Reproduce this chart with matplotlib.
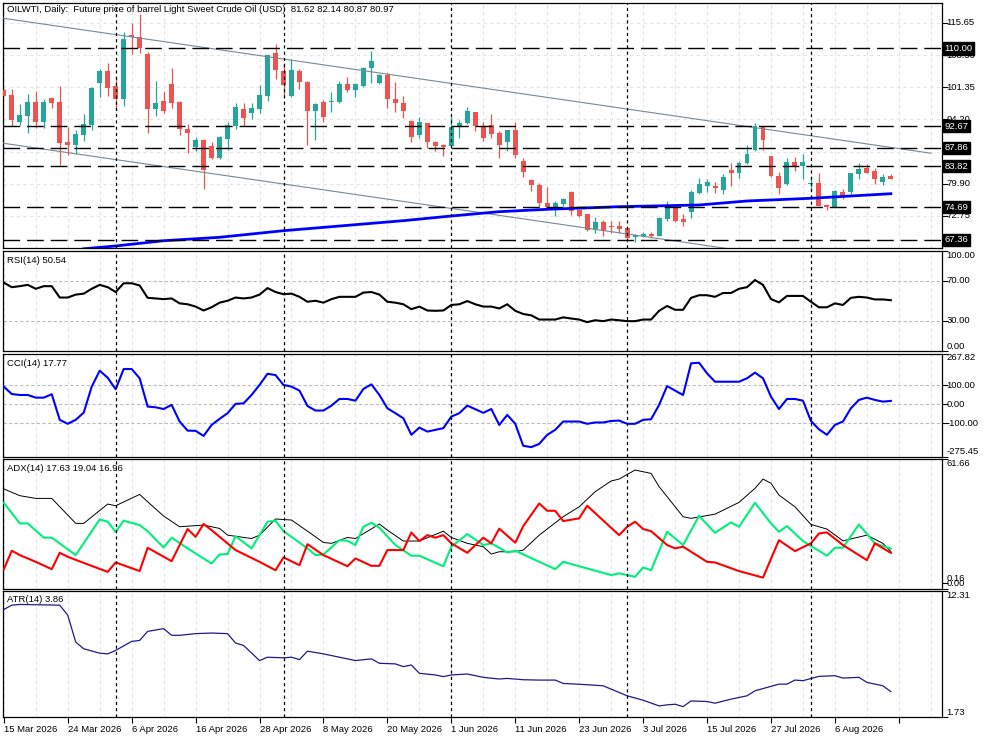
import matplotlib
matplotlib.use("Agg")
import matplotlib.pyplot as plt
from matplotlib import font_manager
from matplotlib.transforms import blended_transform_factory

names = {f.name for f in font_manager.fontManager.ttflist}
FONT = "Liberation Sans Narrow" if "Liberation Sans Narrow" in names else "Liberation Sans"
plt.rcParams["font.family"] = [FONT, "DejaVu Sans"]
FS = 6.8

# ---------------- data ----------------
date_labels = ["15 Mar 2026", "24 Mar 2026", "6 Apr 2026", "16 Apr 2026",
               "28 Apr 2026", "8 May 2026", "20 May 2026", "1 Jun 2026",
               "11 Jun 2026", "23 Jun 2026", "3 Jul 2026", "15 Jul 2026",
               "27 Jul 2026", "6 Aug 2026"]

opens = [100.73, 99.62, 93.69, 94.95, 98.06, 93.69, 98.95, 98.06, 89.16, 88.49,
         90.72, 92.94, 102.36, 105.03, 101.62, 98.73, 113.04, 112.45, 108.74, 96.50,
         98.28, 102.07, 98.06, 92.05, 88.12, 89.61, 88.35, 85.68, 89.83, 92.72,
         96.50, 95.54, 96.50, 99.47, 109.04, 104.96, 99.47, 104.96, 102.58, 96.13,
         97.99, 97.99, 98.13, 102.07, 100.73, 101.62, 105.70, 102.36, 104.07, 98.73,
         97.91, 93.83, 90.72, 93.31, 89.24, 88.49, 88.35, 92.42, 93.31, 95.76,
         92.72, 92.94, 91.24, 89.24, 91.83, 84.94, 80.71, 79.60, 75.67, 74.78,
         75.30, 78.11, 74.03, 73.14, 69.58, 71.44, 70.55, 70.47, 69.96, 67.95,
         68.25, 68.69, 68.32, 72.03, 74.63, 71.96, 73.66, 77.89, 79.45, 79.45,
         78.48, 82.93, 82.34, 84.42, 87.38, 92.57, 86.05, 81.60, 79.82, 84.64,
         83.82, 79.89, 80.11, 75.15, 74.78, 77.96, 78.11, 82.04, 83.45, 82.71,
         80.34, 81.62]
highs = [101.00, 100.95, 97.62, 99.84, 100.58, 98.73, 99.25, 101.62, 92.57, 91.83,
         95.39, 101.40, 105.40, 106.81, 103.33, 113.71, 115.56, 117.64, 109.26, 102.73,
         100.58, 105.55, 98.20, 93.09, 90.35, 89.80, 89.24, 90.50, 93.54, 97.76,
         97.91, 97.76, 101.84, 108.60, 110.96, 106.66, 107.55, 105.40, 102.73, 97.76,
         98.51, 100.36, 102.73, 103.55, 102.21, 105.77, 109.41, 104.29, 104.59, 102.58,
         99.40, 94.00, 94.65, 93.46, 89.40, 88.72, 94.80, 94.06, 97.02, 95.91,
         93.69, 95.39, 91.68, 91.90, 93.69, 85.53, 80.93, 80.11, 79.23, 76.04,
         76.78, 78.20, 74.18, 73.20, 72.40, 71.81, 71.66, 71.66, 70.10, 68.62,
         69.07, 69.07, 72.40, 76.04, 74.93, 73.07, 78.48, 81.08, 80.93, 80.19,
         82.04, 84.42, 84.94, 88.49, 93.31, 92.70, 86.10, 82.41, 85.53, 85.90,
         86.49, 81.45, 82.34, 75.37, 78.48, 78.71, 82.34, 84.56, 84.27, 83.45,
         82.04, 82.14]
lows = [99.30, 92.72, 92.94, 91.24, 92.20, 92.35, 96.65, 84.05, 86.27, 86.49,
        89.46, 91.83, 99.10, 99.47, 96.28, 97.17, 108.74, 109.04, 91.09, 95.02,
        95.54, 96.80, 90.79, 86.79, 87.23, 78.71, 85.38, 85.31, 87.38, 91.98,
        92.72, 94.28, 95.54, 98.36, 103.18, 99.25, 99.25, 100.88, 88.49, 89.61,
        93.69, 95.91, 97.91, 100.36, 99.25, 101.32, 102.36, 101.99, 96.80, 95.76,
        94.58, 89.24, 89.98, 87.75, 87.16, 86.12, 88.20, 89.98, 93.17, 91.68,
        89.46, 90.13, 85.68, 87.23, 85.68, 81.45, 78.34, 74.78, 74.63, 72.77,
        75.00, 72.92, 72.40, 69.44, 68.84, 68.32, 68.99, 68.84, 67.51, 66.84,
        67.95, 67.73, 68.25, 71.66, 71.29, 70.55, 72.33, 77.52, 78.11, 77.89,
        77.59, 79.37, 81.23, 84.27, 87.23, 87.38, 81.45, 77.59, 79.60, 82.71,
        80.93, 78.34, 74.92, 73.96, 74.63, 76.41, 77.59, 80.93, 82.30, 79.82,
        79.60, 80.87]
closes = [99.47, 94.06, 95.17, 98.06, 93.69, 98.06, 97.91, 89.01, 88.49, 90.87,
          93.17, 101.25, 105.03, 101.25, 98.73, 112.08, 112.45, 110.00, 96.43, 97.76,
          96.13, 97.91, 91.98, 91.24, 89.61, 82.93, 85.68, 90.35, 92.94, 97.02,
          94.58, 96.80, 99.62, 108.52, 105.18, 101.84, 105.18, 102.58, 96.13, 97.62,
          94.80, 98.28, 102.07, 100.73, 102.07, 105.55, 107.18, 104.07, 98.73, 97.91,
          96.13, 90.20, 93.54, 89.24, 88.35, 87.97, 92.57, 93.46, 96.06, 92.80,
          90.13, 90.94, 88.49, 91.83, 86.27, 82.56, 79.60, 75.67, 74.78, 75.67,
          76.48, 73.89, 72.70, 69.58, 71.44, 69.44, 70.18, 69.81, 67.88, 68.47,
          68.69, 68.25, 72.18, 74.63, 71.66, 71.44, 78.11, 79.82, 80.34, 78.85,
          81.30, 82.34, 84.42, 86.49, 92.72, 89.61, 81.60, 79.00, 84.64, 83.67,
          84.64, 80.04, 75.00, 74.63, 78.26, 77.00, 82.19, 83.16, 82.34, 80.93,
          81.45, 80.97]

ma_bars = [10, 14, 20, 27, 35, 41, 50, 56, 62, 68, 77, 87, 93, 101, 111]
ma_vals = [65.40, 66.03, 67.20, 67.96, 69.43, 70.32, 71.66, 72.70, 73.66, 74.19,
           74.77, 75.15, 76.04, 76.64, 77.66]

channel_bars = [0, 116]
channel_upper = [116.68, 86.67]
channel_lower = [88.87, 58.87]

level_prices = [110.00, 92.67, 87.86, 83.82, 74.69, 67.36]
price_ticks = [115.65, 108.50, 101.35, 94.20, 87.05, 79.90, 72.75]
vline_bars = [14, 35, 56, 78, 101]

rsi = [68.0, 63.5, 64.5, 65.8, 61.9, 64.5, 64.5, 53.2, 53.2, 56.1,
       57.1, 61.9, 65.8, 63.5, 58.7, 67.4, 67.4, 65.2, 52.9, 52.3,
       51.6, 52.3, 47.4, 46.5, 44.2, 40.3, 43.5, 48.1, 50.0, 53.2,
       52.3, 53.2, 56.1, 62.6, 58.7, 56.5, 57.1, 53.9, 49.0, 50.0,
       48.1, 51.6, 53.9, 53.9, 53.9, 58.1, 58.7, 56.1, 49.0, 48.1,
       46.5, 41.6, 44.2, 40.3, 40.0, 40.3, 45.8, 46.5, 49.7, 46.5,
       44.2, 44.2, 42.3, 46.5, 40.0, 36.8, 35.5, 31.3, 31.3, 31.3,
       33.5, 32.3, 31.3, 28.7, 30.6, 29.7, 31.3, 30.6, 29.7, 29.7,
       31.3, 31.3, 40.0, 44.8, 41.0, 41.0, 52.9, 55.5, 55.5, 53.9,
       57.7, 57.7, 61.9, 63.5, 70.6, 65.8, 51.6, 48.4, 54.8, 54.8,
       54.8, 49.0, 43.5, 43.5, 47.4, 45.8, 52.9, 53.9, 53.2, 51.3,
       51.3, 50.54]

cci = [93, 54, 49, 49, 35, 35, 53, -82, -103, -82,
       -44, 93, 177, 140, 79, 186, 186, 137, -12, -16,
       -25, -3, -91, -139, -140, -167, -109, -77, -47, 2,
       5, 49, 102, 161, 154, 102, 93, 72, -9, -33,
       -33, -7, 28, 28, 19, 81, 105, 49, -21, -47,
       -74, -161, -123, -144, -135, -126, -65, -47, -7, -26,
       -45, -25, -109, -56, -103, -219, -226, -209, -161, -135,
       -91, -91, -91, -103, -96, -96, -88, -86, -103, -103,
       -82, -79, -3, 96, 72, 49, 216, 219, 163, 119,
       119, 119, 119, 137, 167, 137, 40, -25, 28, 28,
       19, -88, -132, -161, -109, -91, -21, 23, 35, 23,
       14, 17.77]

adx_bars = [0, 2, 4, 6, 9, 10, 13, 14, 17, 18, 20, 22, 25, 27, 28, 31, 32, 34, 36, 38,
            40, 41, 43, 44, 47, 48, 50, 52, 55, 56, 58, 60, 61, 62, 64, 65, 67, 70, 72, 74,
            76, 77, 78, 79, 81, 82, 85, 86, 89, 92, 94, 95, 96, 97, 99, 101, 103, 105, 108, 110,
            111]
adx_vals = [47.4, 44.2, 42.9, 42.9, 31.0, 31.0, 40.2, 39.4, 44.8, 41.3, 34.5, 29.4, 30.2, 28.6, 25.4, 23.8, 25.4, 33.1, 32.6, 27.3,
            21.9, 21.5, 24.3, 23.8, 30.7, 27.8, 22.6, 22.6, 27.3, 24.3, 21.5, 19.9, 16.4, 17.5, 17.5, 18.3, 25.4, 34.2, 38.9, 46.1,
            51.2, 52.1, 54.3, 56.4, 54.8, 48.5, 34.2, 33.4, 35.4, 41.0, 47.7, 52.1, 50.1, 44.5, 38.9, 30.5, 28.3, 22.7, 25.4, 21.5,
            17.63]
pdi_bars = [0, 2, 3, 5, 6, 9, 12, 13, 14, 15, 17, 18, 20, 21, 23, 26, 27, 28, 29, 31,
            33, 34, 35, 38, 39, 40, 42, 43, 44, 45, 46, 47, 49, 51, 52, 55, 56, 58, 60, 61,
            63, 64, 69, 70, 76, 77, 79, 80, 81, 83, 85, 87, 89, 91, 92, 94, 96, 97, 98, 100,
            103, 104, 105, 107, 109, 111]
pdi_vals = [40.8, 31.0, 31.0, 24.2, 24.2, 15.9, 32.9, 31.8, 27.0, 32.3, 30.2, 27.3, 19.5, 24.2, 19.1, 11.9, 16.2, 16.4, 24.9, 19.1,
            31.8, 32.3, 27.3, 19.1, 15.9, 16.2, 23.0, 22.7, 20.7, 29.4, 31.3, 28.9, 20.7, 15.6, 15.6, 10.6, 19.9, 25.9, 20.7, 21.5,
            17.2, 18.0, 9.2, 12.7, 6.4, 7.2, 5.6, 10.0, 8.7, 27.0, 20.7, 34.6, 26.5, 31.5, 29.4, 40.8, 31.0, 27.0, 29.7, 22.6,
            15.6, 19.4, 19.4, 30.5, 21.5, 19.04]
mdi_bars = [0, 1, 2, 4, 6, 7, 8, 10, 13, 14, 17, 18, 21, 23, 24, 25, 26, 29, 32, 34,
            35, 37, 38, 40, 43, 44, 46, 47, 48, 50, 51, 52, 53, 54, 55, 56, 58, 60, 61, 62,
            64, 65, 67, 68, 69, 70, 72, 73, 77, 78, 79, 80, 81, 83, 84, 85, 87, 88, 89, 92,
            95, 97, 99, 101, 102, 103, 105, 108, 109, 111]
mdi_vals = [9.1, 18.0, 15.9, 12.7, 9.2, 17.0, 15.1, 12.2, 7.9, 12.4, 8.3, 19.4, 13.0, 28.3, 24.6, 30.7, 27.8, 18.3, 12.7, 8.7,
            14.8, 11.1, 21.1, 15.9, 10.6, 14.3, 10.8, 10.8, 18.3, 18.3, 26.7, 22.6, 25.4, 24.2, 25.4, 21.5, 17.0, 24.2, 21.5, 28.5,
            21.8, 29.7, 40.5, 37.0, 37.0, 32.1, 33.4, 39.4, 25.4, 29.4, 31.8, 28.3, 27.3, 20.7, 19.1, 19.9, 15.1, 12.7, 12.4, 8.3,
            5.2, 23.0, 17.8, 21.5, 26.2, 26.7, 20.7, 13.5, 21.5, 16.96]

atr_bars = [0, 1, 2, 7, 8, 9, 10, 12, 13, 14, 16, 17, 18, 20, 21, 22, 24, 26, 28, 29,
            30, 32, 33, 35, 36, 37, 38, 40, 42, 44, 46, 47, 49, 50, 51, 52, 54, 55, 56, 58,
            60, 62, 63, 65, 67, 69, 70, 73, 75, 76, 78, 80, 82, 83, 84, 85, 86, 88, 89, 91,
            93, 94, 97, 98, 99, 100, 102, 104, 105, 107, 108, 110, 111]
atr_vals = [10.76, 11.12, 11.18, 11.12, 10.28, 8.02, 7.46, 7.09, 7.03, 7.32, 8.08, 8.16, 8.92, 9.15, 8.59, 8.59, 8.73, 8.78, 8.73, 7.94,
            7.74, 6.47, 6.75, 6.70, 6.75, 6.55, 7.26, 7.03, 6.75, 6.47, 6.61, 6.24, 6.19, 5.96, 6.10, 5.40, 5.26, 5.12, 5.26, 5.34,
            5.06, 4.92, 4.97, 4.86, 4.83, 4.83, 4.55, 4.44, 4.35, 4.07, 3.51, 3.14, 2.66, 2.75, 2.80, 2.60, 3.08, 3.03, 2.89, 3.23,
            3.51, 3.93, 4.49, 4.49, 4.83, 4.78, 5.14, 5.20, 5.00, 5.06, 4.64, 4.35, 3.86]

title = "OILWTI, Daily:  Future price of barrel Light Sweet Crude Oil (USD)  81.62 82.14 80.87 80.97"

# ---------------- styling ----------------
GREEN = "#26a69a"
RED = "#ef5350"
GRID = "#e4e4e4"
LEVEL = "#bdbdbd"

W, H = 983, 737
fig = plt.figure(figsize=(W / 100, H / 100), dpi=100)
fig.patch.set_facecolor("white")

left_px, right_px = 3, 942


def panel(top, bottom):
    return fig.add_axes([left_px / W, (H - bottom) / H,
                         (right_px - left_px) / W, (bottom - top) / H])


ax_main = panel(3, 248)
ax_rsi = panel(250.5, 351)
ax_cci = panel(353.5, 456.5)
ax_adx = panel(459, 588.5)
ax_atr = panel(591, 717)
axes = [ax_main, ax_rsi, ax_cci, ax_adx, ax_atr]

n = len(opens)
xs = list(range(n))
xlim = (-0.1, 117.4)
major_x = list(range(0, 113, 8))
minor_x = list(range(0, 118, 4))

for ax in axes:
    ax.set_xlim(*xlim)
    for s in ax.spines.values():
        s.set_linewidth(0.9)
        s.set_color("black")
    ax.set_xticks(minor_x, minor=True)
    ax.set_xticks(major_x)
    for gx in minor_x:
        ax.axvline(gx, color=GRID, lw=0.8, dashes=(3, 3), zorder=0)
    ax.tick_params(axis="x", which="both", length=0, labelbottom=False)
    ax.yaxis.tick_right()
    ax.tick_params(axis="y", length=4, width=0.8, direction="out",
                   labelright=False, labelleft=False, left=False)
    for vb in vline_bars:
        ax.axvline(vb, color="black", lw=0.9, dashes=(2.5, 2.5), zorder=6)


def right_labels(ax, ticks, top=None, bottom=None, extra=()):
    tr = blended_transform_factory(ax.transAxes, ax.transData)
    ax.set_yticks(list(ticks) + [v for v, _ in extra])
    for v in ticks:
        va = "center"
        if top is not None and v == top:
            va = "top"
        if bottom is not None and v == bottom:
            va = "bottom"
        ax.text(1.0 + 4.5 / 939, v, f"{v:.2f}", transform=tr, ha="left", va=va,
                fontsize=FS, clip_on=False)
    for v, va in extra:
        ax.text(1.0 + 4.5 / 939, v, f"{v:.2f}", transform=tr, ha="left", va=va,
                fontsize=FS, clip_on=False)


# ---------------- main price panel ----------------
ax_main.set_ylim(65.58, 120.09)
for p in price_ticks:
    ax_main.axhline(p, color=GRID, lw=0.8, dashes=(3, 3), zorder=0)

colors = [GREEN if c > o else RED for o, c in zip(opens, closes)]
ax_main.vlines(xs, lows, highs, colors=colors, lw=0.9, zorder=2)
bottoms = [min(o, c) for o, c in zip(opens, closes)]
heights = [max(abs(c - o), 0.12) for o, c in zip(opens, closes)]
ax_main.bar(xs, heights, bottom=bottoms, width=0.62, color=colors, linewidth=0, zorder=3)

ax_main.plot(channel_bars, channel_upper, color="#778899", lw=0.8, zorder=4)
ax_main.plot(channel_bars, channel_lower, color="#778899", lw=0.8, zorder=4)
ax_main.plot(ma_bars, ma_vals, color="#0000ff", lw=2.0, zorder=5)

for lv in level_prices:
    ax_main.axhline(lv, color="black", lw=1.0, dashes=(12, 5), zorder=5)

right_labels(ax_main, price_ticks)
tr_main = blended_transform_factory(ax_main.transAxes, ax_main.transData)
for lv in level_prices:
    ax_main.text(1.0 + 2.5 / 939, lv, f"{lv:.2f}", transform=tr_main, ha="left",
                 va="center", fontsize=FS, color="white", clip_on=False, zorder=10,
                 bbox=dict(facecolor="black", edgecolor="black", pad=1.2))

ax_main.text(4 / 939, 0.972, title, transform=ax_main.transAxes, ha="left",
             va="center", fontsize=FS)

# ---------------- RSI ----------------
ax_rsi.set_ylim(0, 100)
for lv in (70, 30):
    ax_rsi.axhline(lv, color=LEVEL, lw=0.8, dashes=(3, 2), zorder=1)
ax_rsi.plot(xs, rsi, color="black", lw=1.5, zorder=4)
right_labels(ax_rsi, [100.0, 70.0, 30.0, 0.0], top=100.0, bottom=0.0)
ax_rsi.text(4 / 939, 0.9, "RSI(14) 50.54", transform=ax_rsi.transAxes,
            ha="left", va="center", fontsize=FS)

# ---------------- CCI ----------------
ax_cci.set_ylim(-275.45, 267.82)
for lv in (100, 0, -100):
    ax_cci.axhline(lv, color=LEVEL, lw=0.8, dashes=(3, 2), zorder=1)
ax_cci.plot(xs, cci, color="#0000ff", lw=1.5, zorder=4)
right_labels(ax_cci, [267.82, 100.0, 0.0, -100.0, -275.45], top=267.82, bottom=-275.45)
ax_cci.text(4 / 939, 0.9, "CCI(14) 17.77", transform=ax_cci.transAxes,
            ha="left", va="center", fontsize=FS)

# ---------------- ADX ----------------
ax_adx.set_ylim(0.0, 61.66)
ax_adx.plot(adx_bars, adx_vals, color="black", lw=0.7, zorder=3)
ax_adx.plot(pdi_bars, pdi_vals, color="#00f07a", lw=1.5, zorder=4)
ax_adx.plot(mdi_bars, mdi_vals, color="#ff0000", lw=1.5, zorder=5)
right_labels(ax_adx, [61.66, 0.0], top=61.66, bottom=0.0, extra=[(2.6, "bottom")])
ax_adx.texts[-1].set_text("0.16")
ax_adx.text(4 / 939, 0.93, "ADX(14) 17.63 19.04 16.96", transform=ax_adx.transAxes,
            ha="left", va="center", fontsize=FS)

# ---------------- ATR ----------------
ax_atr.set_ylim(1.73, 12.31)
ax_atr.plot(atr_bars, atr_vals, color="#1c1c8c", lw=0.9, zorder=4)
right_labels(ax_atr, [12.31, 1.73], top=12.31, bottom=1.73)
ax_atr.text(4 / 939, 0.93, "ATR(14) 3.86", transform=ax_atr.transAxes,
            ha="left", va="center", fontsize=FS)

ax_atr.set_xticks(major_x)
ax_atr.set_xticklabels(date_labels + [""])
ax_atr.tick_params(axis="x", which="major", length=4, width=0.8, direction="out",
                   labelbottom=True, labelsize=FS, pad=1.5)
for lab in ax_atr.get_xticklabels():
    lab.set_horizontalalignment("left")

fig.savefig("out.png", dpi=100, facecolor="white")
